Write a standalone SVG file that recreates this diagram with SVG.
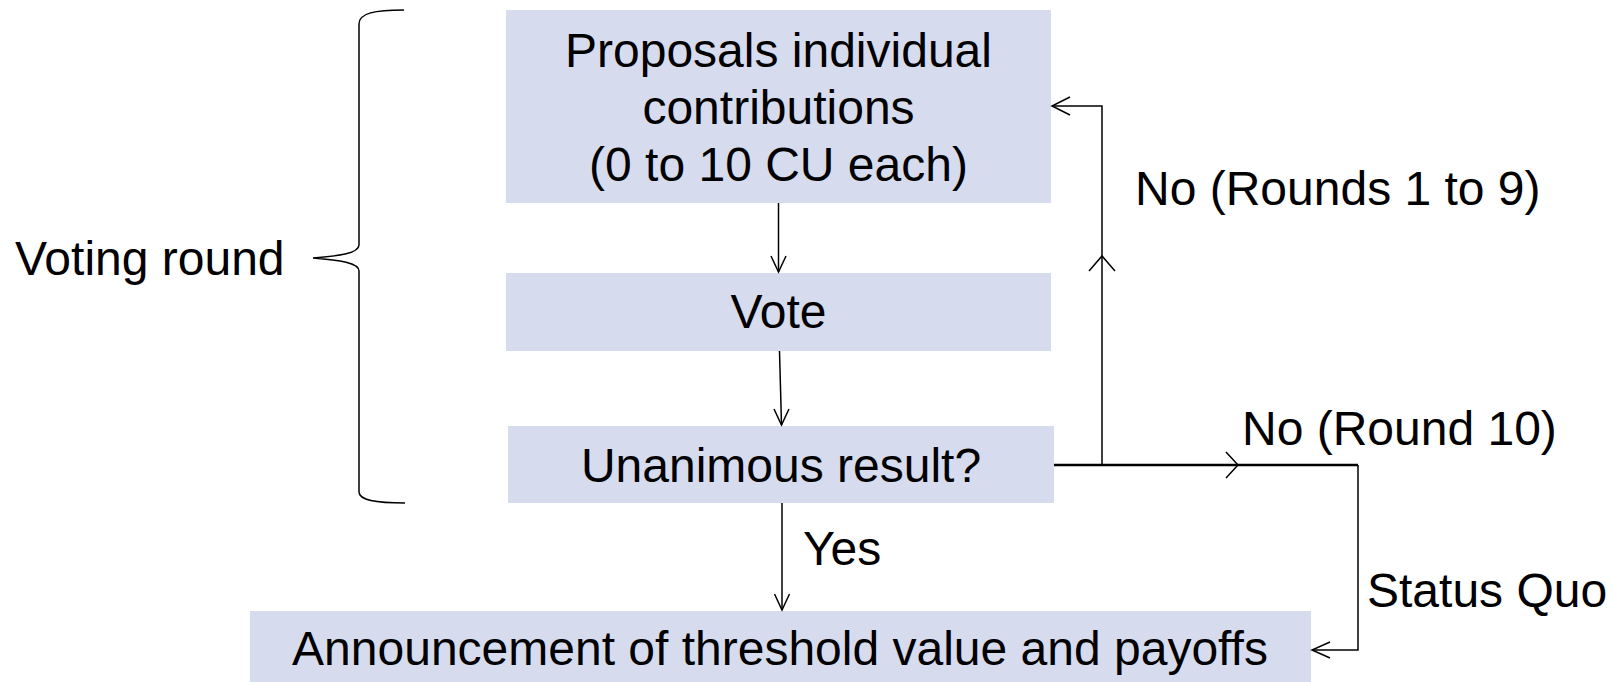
<svg xmlns="http://www.w3.org/2000/svg" width="1614" height="682" viewBox="0 0 1614 682">
<style>
.box{fill:#D6DCEE;}
.t{font-family:"Liberation Sans",Arial,sans-serif;font-size:48px;fill:#000;}
.c{text-anchor:middle;}
.ln{fill:none;stroke:#000;stroke-width:1.5;}
.ah{fill:none;stroke:#000;stroke-width:1.5;stroke-linejoin:miter;}
</style>
<rect width="1614" height="682" fill="#fff"/>
<g id="brace">
<path class="ln" d="M404,10 C375,10 359,13 359,24 L359,245 C359,253 340,256 313,258 C340,260 359,263 359,271 L359,492 C359,500 375,503 405,503"/>
<text class="t" x="15" y="275" font-size="47">Voting round</text>
</g>
<g id="proposals">
<rect class="box" x="506" y="10" width="545" height="193"/>
<text class="t c" x="778.5" y="67">Proposals individual</text>
<text class="t c" x="778.5" y="124">contributions</text>
<text class="t c" x="778.5" y="181">(0 to 10 CU each)</text>
</g>
<g id="vote">
<rect class="box" x="506" y="273" width="545" height="78"/>
<text class="t c" x="778.5" y="328">Vote</text>
</g>
<g id="unanimous">
<rect class="box" x="508" y="426" width="546" height="77"/>
<text class="t c" x="781" y="482">Unanimous result?</text>
</g>
<g id="announcement">
<rect class="box" x="250" y="611" width="1061" height="71"/>
<text class="t c" x="780" y="665">Announcement of threshold value and payoffs</text>
</g>
<g id="connectors">
<line class="ln" x1="778.5" y1="203" x2="778.5" y2="272"/>
<polyline class="ah" points="771,256 778.5,272 786,256"/>
<line class="ln" x1="779.5" y1="351" x2="781.5" y2="425"/>
<polyline class="ah" points="774,409 781.5,425 789,409"/>
<line class="ln" x1="782" y1="503" x2="782" y2="610"/>
<polyline class="ah" points="774.5,594 782,610 789.5,594"/>
<line x1="1054" y1="465" x2="1358" y2="465" stroke="#000" stroke-width="2.5"/>
<polyline class="ah" points="1226,452 1238,465 1226,478"/>
<polyline class="ln" points="1102,465 1102,106 1052,106"/>
<polyline class="ah" points="1089,271 1102,256 1115,271"/>
<polyline class="ah" points="1070,97 1052,106 1070,115"/>
<polyline class="ln" points="1358,465 1358,650 1312,650"/>
<polyline class="ah" points="1330,642 1312,650 1330,658"/>
<text class="t" x="803" y="565">Yes</text>
<text class="t" x="1135" y="205">No (Rounds 1 to 9)</text>
<text class="t" x="1242" y="445">No (Round 10)</text>
<text class="t" x="1367" y="607">Status Quo</text>
</g>
</svg>
